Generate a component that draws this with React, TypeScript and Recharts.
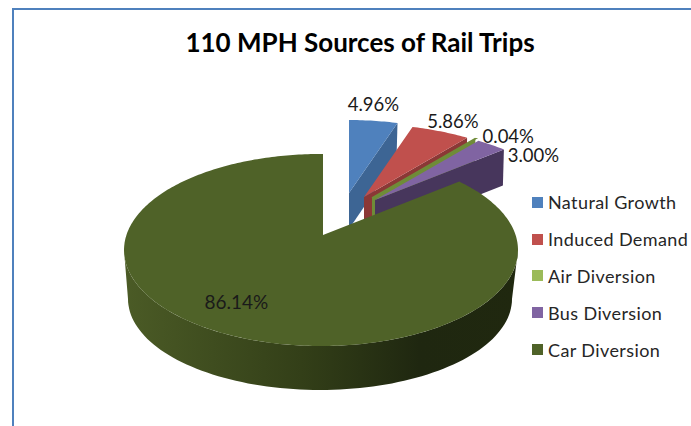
import { PieChart, Pie, Legend } from "recharts";

const categories = ["Natural Growth", "Induced Demand", "Air Diversion", "Bus Diversion", "Car Diversion"];
const shares = [4.96, 5.86, 0.04, 3.0, 86.14];
const labels = ["4.96%", "5.86%", "0.04%", "3.00%", "86.14%"];

const topColors = ["#4f81bd", "#c0504d", "#9bbb59", "#8064a2", "#4f6228"];
const sliceColors = ["#4f81bd", "#c0504d", "#6f8c38", "#8064a2", "#4f6228"];
const wallColors = ["#3d6594", "#8b3836", "#6f8c38", "#47365c", "#4f6228"];

const data = categories.map((name, i) => ({ name, value: shares[i], fill: topColors[i] }));

// fake 3d: each slice gets its own apex, the far slices sit on a flatter ellipse
const TILT = 0.465;
const FAR = { rx: 195, ry: 87, oy: 14 };
const NEAR = { rx: 197, ry: 96, oy: 15 };
const apexes = [
  { x: 349, y: 193, ...FAR },
  { x: 364, y: 197, ...FAR },
  { x: 372, y: 198, ...FAR },
  { x: 375, y: 200, ...FAR },
  { x: 323, y: 235, ...NEAR },
];
const WALL = 36;
const labelOffsets = [
  { dx: 0, dy: -17 },
  { dx: 12.5, dy: -10 },
  { dx: 33, dy: -3 },
  { dx: 42, dy: 10 },
  { dx: 12, dy: -32 },
];

function rim(i: number, deg: number) {
  const a = apexes[i];
  const rad = (deg * Math.PI) / 180;
  const dx = Math.sin(rad);
  const dy = -TILT * Math.cos(rad);
  const ox = 2;
  const oy = -a.oy;
  // ray from apex against the top ellipse
  const p = (dx * dx) / (a.rx * a.rx) + (dy * dy) / (a.ry * a.ry);
  const q = (dx * ox) / (a.rx * a.rx) + (dy * oy) / (a.ry * a.ry);
  const r = (ox * ox) / (a.rx * a.rx) + (oy * oy) / (a.ry * a.ry) - 1;
  const t = (-q + Math.sqrt(q * q - p * r)) / p;
  return { x: a.x + dx * t, y: a.y + dy * t };
}

function pts(list: { x: number; y: number }[]) {
  return list.map((p) => `${p.x.toFixed(1)},${p.y.toFixed(1)}`).join(" ");
}

function Slice3D(props: any) {
  const i = props.index;
  const from = 90 - props.startAngle;
  const to = 90 - props.endAngle;
  const a = apexes[i];
  const arc = [];
  const steps = Math.max(2, Math.ceil(to - from));
  for (let k = 0; k <= steps; k++) arc.push(rim(i, from + ((to - from) * k) / steps));

  if (i === 4) {
    const top = [];
    const bottom = [];
    for (let d = 90; d <= 270; d += 2) {
      const r = (d * Math.PI) / 180;
      top.push({ x: 321 + a.rx * Math.sin(r), y: 250 - a.ry * Math.cos(r) });
      bottom.unshift({ x: 320 + 192 * Math.sin(r), y: 299 - 91 * Math.cos(r) });
    }
    return (
      <g>
        <polygon points={pts([...top, ...bottom])} fill="url(#carWall)" />
        <polygon points={pts([a, ...arc])} fill={sliceColors[i]} />
      </g>
    );
  }

  const end = arc[arc.length - 1];
  const wall = [a, end, { x: end.x - 1, y: end.y + WALL }, { x: a.x, y: a.y + WALL }];
  return (
    <g>
      <polygon points={pts(wall)} fill={wallColors[i]} />
      <polygon points={pts([a, ...arc])} fill={sliceColors[i]} stroke={i === 2 ? sliceColors[i] : "none"} strokeWidth={i === 2 ? 1.5 : 0} />
    </g>
  );
}

function SliceLabel(props: any) {
  const i = props.index;
  const p = rim(i, 90 - props.midAngle);
  const off = labelOffsets[i];
  return (
    <text x={p.x + off.dx} y={p.y + off.dy} textAnchor="middle" dominantBaseline="central" fontFamily="Lato" fontSize={i === 4 ? 19 : 18.5} fill="#1a1a1a">
      {labels[i]}
    </text>
  );
}

function LegendList({ payload }: any) {
  return (
    <div style={{ fontFamily: "Lato", fontSize: 18, letterSpacing: 0.4, color: "#262626" }}>
      {(payload || []).map((entry: any) => (
        <div key={entry.value} style={{ display: "flex", alignItems: "center", height: 36.8, whiteSpace: "nowrap" }}>
          <span style={{ width: 11, height: 11, background: entry.color, marginRight: 5 }} />
          {entry.value}
        </div>
      ))}
    </div>
  );
}

export default function App() {
  return (
    <div style={{ position: "absolute", left: 0, top: 0, width: 691, height: 426, background: "#fff", overflow: "hidden" }}>
      <div style={{ position: "absolute", left: 12, top: 8, width: 700, height: 440, borderLeft: "2px solid #4f81bd", borderTop: "2px solid #4f81bd" }} />
      <div style={{ position: "absolute", left: 0, top: 0 }}>
        <PieChart width={691} height={426} margin={{ top: 0, right: 0, bottom: 0, left: 0 }}>
          <defs>
            <linearGradient id="carWall" gradientUnits="userSpaceOnUse" x1="124" y1="0" x2="518" y2="0">
              <stop offset="0%" stopColor="#4b5b26" />
              <stop offset="45%" stopColor="#333f18" />
              <stop offset="75%" stopColor="#1f2710" />
              <stop offset="100%" stopColor="#20280f" />
            </linearGradient>
          </defs>
          <text x={360} y={42} textAnchor="middle" dominantBaseline="central" fontFamily="Lato" fontWeight={700} fontSize={26} fill="#000">
            110 MPH Sources of Rail Trips
          </text>
          <Pie
            data={data}
            dataKey="value"
            nameKey="name"
            cx={321}
            cy={250}
            outerRadius={96}
            startAngle={90}
            endAngle={-270}
            stroke="none"
            isAnimationActive={false}
            shape={Slice3D}
            label={SliceLabel}
            labelLine={false}
          />
          <Legend
            layout="vertical"
            align="left"
            verticalAlign="top"
            itemSorter={null}
            content={<LegendList />}
            wrapperStyle={{ left: 532, top: 184, width: 159 }}
          />
        </PieChart>
      </div>
    </div>
  );
}
